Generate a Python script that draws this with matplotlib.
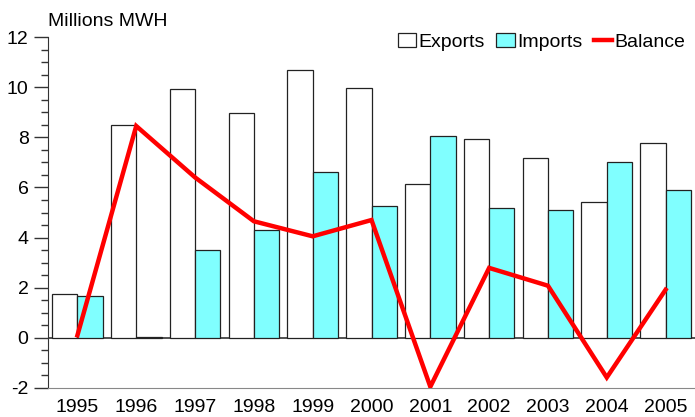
import matplotlib
matplotlib.use("Agg")
import matplotlib.pyplot as plt
import numpy as np
from matplotlib.ticker import MultipleLocator

plt.rcParams['font.family'] = ['Liberation Sans', 'DejaVu Sans']
plt.rcParams['axes.unicode_minus'] = False

years = ['1995', '1996', '1997', '1998', '1999', '2000', '2001', '2002', '2003', '2004', '2005']
exports = [1.76, 8.5, 9.92, 8.95, 10.68, 9.96, 6.12, 7.95, 7.17, 5.41, 7.77]
imports = [1.65, 0.05, 3.52, 4.3, 6.6, 5.25, 8.05, 5.16, 5.1, 7.01, 5.89]
balance = [0.1, 8.45, 6.4, 4.65, 4.05, 4.7, -1.95, 2.79, 2.08, -1.58, 1.92]

fig = plt.figure(figsize=(6.95, 4.17), dpi=100)
ax = fig.add_axes([48/695, 1-388/417, 1-48/695, (388-37)/417])

x = np.arange(len(years))
w = 0.43
b1 = ax.bar(x - w/2, exports, width=w, color='white', edgecolor='#222222', linewidth=0.9, label='Exports', zorder=2)
b2 = ax.bar(x + w/2, imports, width=w, color='#80FFFF', edgecolor='#222222', linewidth=0.9, label='Imports', zorder=2)
l1, = ax.plot(x, balance, color='#FF0000', linewidth=3.2, label='Balance', zorder=3, solid_joinstyle='miter')
ax.axhline(0, color='#333333', linewidth=1.2, zorder=1)

ax.set_xlim(-0.5, len(years) - 0.5)
ax.set_ylim(-2, 12)
ax.yaxis.set_major_locator(MultipleLocator(2))
ax.yaxis.set_minor_locator(MultipleLocator(0.5))
ax.tick_params(axis='y', which='major', length=10, width=1, color='#333333', labelsize=14, pad=4)
ax.tick_params(axis='y', which='minor', length=5, width=1, color='#333333')
ax.set_xticks(x)
ax.set_xticklabels(years)
ax.tick_params(axis='x', length=0, labelsize=14, pad=8)

for s in ['top', 'right']:
    ax.spines[s].set_visible(False)
ax.spines['left'].set_color('#333333')
ax.spines['bottom'].set_color('#888888')

fig.text(48/695, 1 - 22/417, 'Millions MWH', fontsize=14, va='center', ha='left')

leg = ax.legend([b1, b2, l1], ['Exports', 'Imports', 'Balance'],
                loc='center right', bbox_to_anchor=(1 - 10/695, 1 - 42/417), bbox_transform=fig.transFigure,
                ncol=3, frameon=False, fontsize=14, handlelength=0.95, handletextpad=0.1,
                columnspacing=0.6, borderaxespad=0.0, borderpad=0.0)

fig.savefig('out.png', dpi=100)
